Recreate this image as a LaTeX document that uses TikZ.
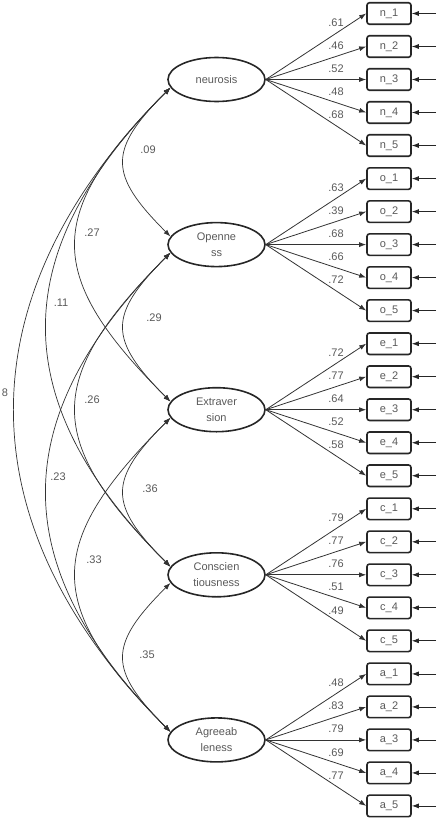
\documentclass[tikz,border=0pt]{standalone}
\usepackage{fontspec}
\setmainfont{Liberation Sans}
\usepackage{xcolor}
\usepackage{tikz}
\usetikzlibrary{arrows.meta,shapes.geometric}

\begin{document}
\begin{tikzpicture}[x=1pt,y=1pt,font=\fontsize{11}{16}\selectfont,>={Latex[length=7pt,width=5pt]},
    latent/.style={ellipse,draw=black!85,line width=1.6pt,minimum width=97pt,minimum height=44pt,inner sep=0pt,align=center,text=black!65},
    item/.style={draw=black!85,line width=1.6pt,rounded corners=2.5pt,minimum width=44pt,minimum height=21.5pt,inner sep=0pt,text=black!65},
    lab/.style={text=black!65,inner sep=0pt},
    cov/.style={black!80,line width=.7pt}]
    \useasboundingbox (0,0) rectangle (443,-819);
    \foreach \k/\nm/\txt in {0/neu/neurosis,1/ope/{Openne\\ss},2/ext/{Extraver\\sion},3/con/{Conscien\\tiousness},4/agr/{Agreeab\\leness}}{
      \node[latent] (\nm) at (216.5,{-79.5-165.1*\k}) {\txt};
    }
    \foreach \k/\nm/\ini/\vals in {0/neu/n/{.61,.46,.52,.48,.68},1/ope/o/{.63,.39,.68,.66,.72},2/ext/e/{.72,.77,.64,.52,.58},3/con/c/{.79,.77,.76,.51,.49},4/agr/a/{.48,.83,.79,.69,.77}}{
      \foreach \v [count=\j] in \vals {
        \node[item] (\ini\j) at (389,{-79.5-165.1*\k-33*(\j-3)}) {\ini\_\j};
        \coordinate (err\ini\j) at (436,{-79.5-165.1*\k-33*(\j-3)});
        \draw[->,black!85,line width=.8pt] (err\ini\j) -- (\ini\j.east);
        \draw[->,black!80,line width=.8pt] (\nm.east) -- (\ini\j.west) node[lab,pos=.7,above=6.5pt] {\v};
      }
    }
    \foreach \a/\b/\loose in {neu/ope/1.52,ope/ext/1.52,ext/con/1.52,con/agr/1.52,neu/ext/1.46,ope/con/1.46,ext/agr/1.46,neu/con/1.25,ope/agr/1.25,neu/agr/1.17}{
      \draw[<->,cov] (\a.190) to[bend right=45,looseness=\loose] (\b.170);
    }
    \foreach \x/\y/\nm/\lab in {148/150/c09/.09,92/233/c27/.27,61/303/c11/.11,5/393/c28/8,154/318/c29/.29,92/400/c26/.26,58/477/c23/.23,150/489/c36/.36,94/560/c33/.33,147/655/c35/.35}{
      \node[lab] (\nm) at (\x,-\y) {\lab};
    }
\end{tikzpicture}
\end{document}
